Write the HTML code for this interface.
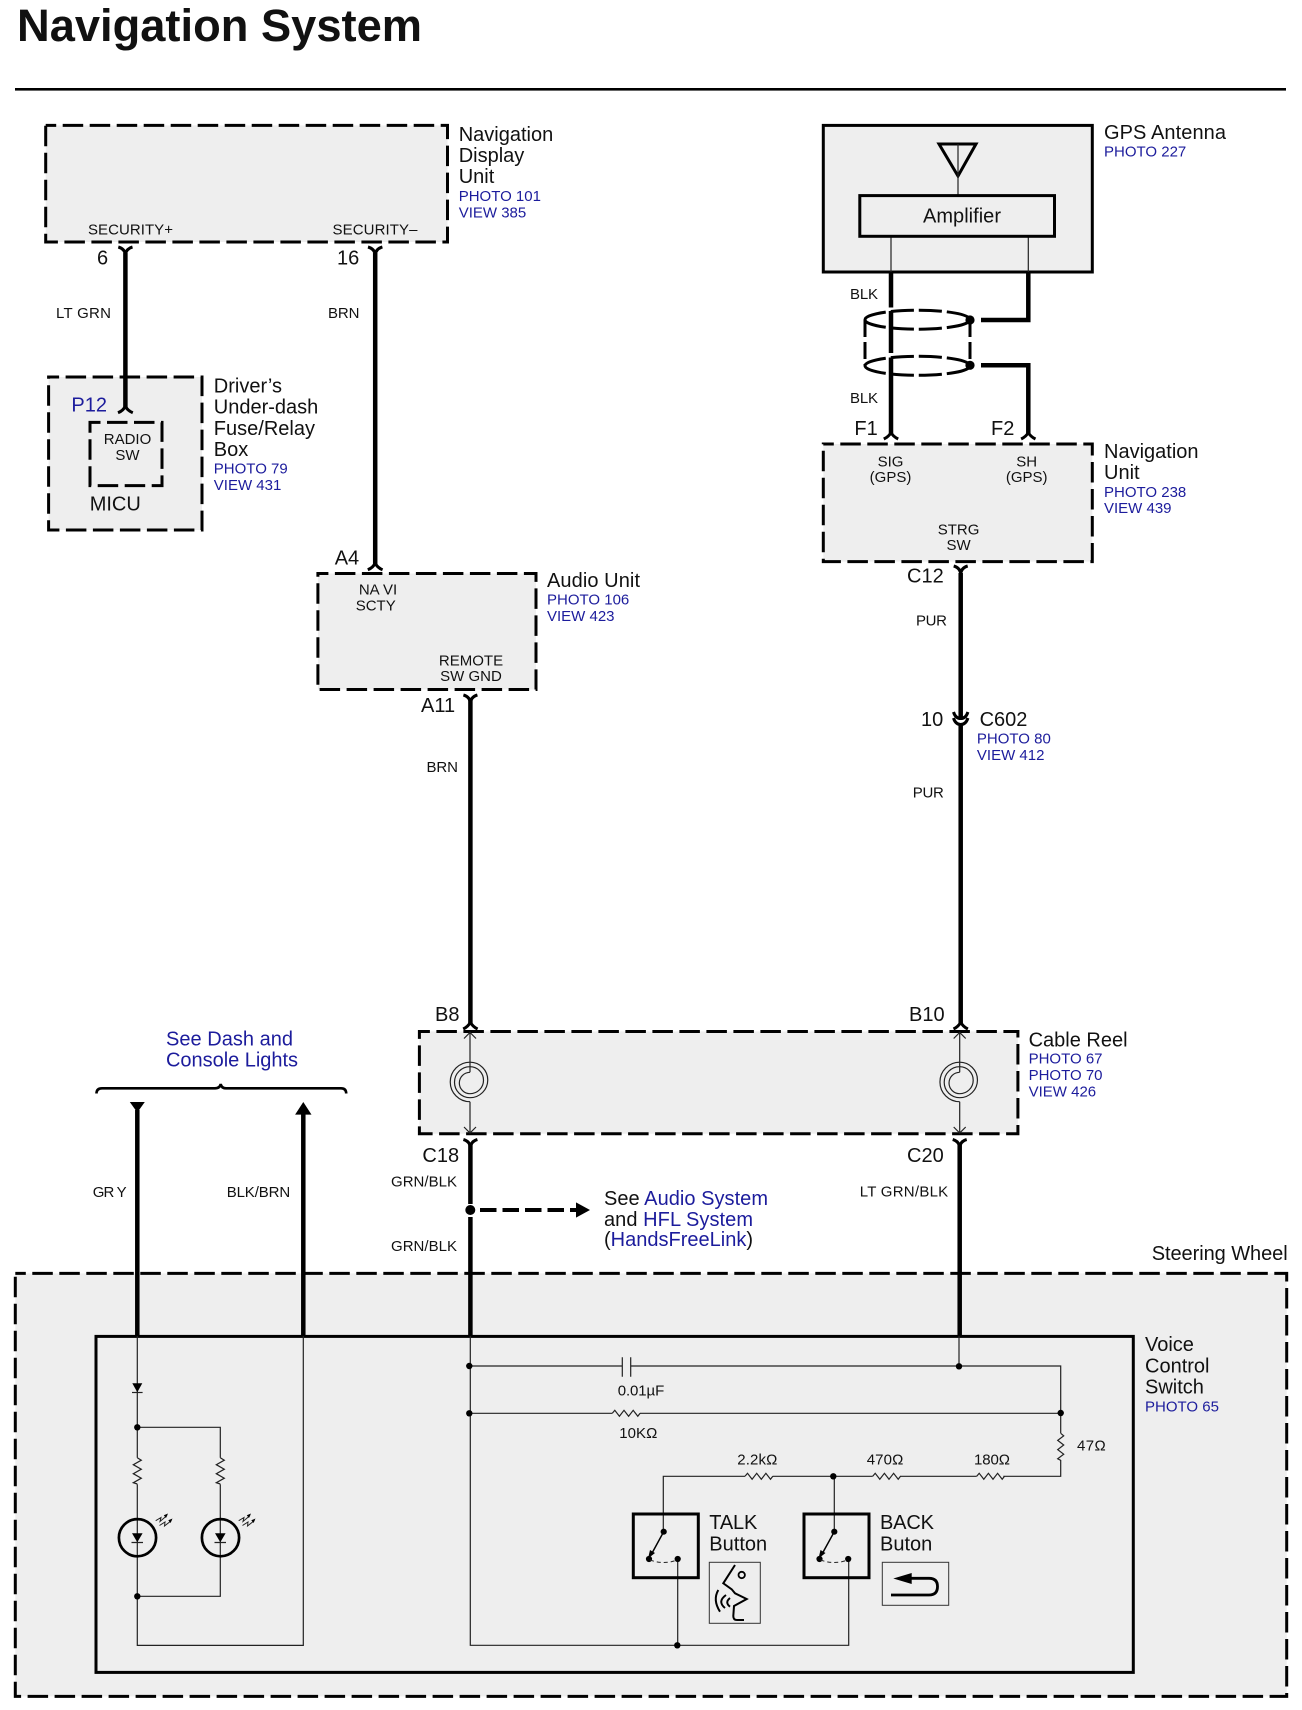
<!DOCTYPE html>
<html><head><meta charset="utf-8"><title>Navigation System</title>
<style>
html,body{margin:0;padding:0;background:#fff}
svg{display:block}
text{font-family:"Liberation Sans",sans-serif;fill:#111}
.b{font-size:20px}
.s{font-size:15px}
.l{font-size:15px;fill:#1c1c9c}
.u{fill:#1c1c9c}
.d{fill:#eee;stroke:#000;stroke-width:3;stroke-dasharray:20.5 6.5;stroke-dashoffset:10}
.w{fill:none;stroke:#000;stroke-width:4.5}
.c{fill:none;stroke:#000;stroke-width:3}
.t{fill:none;stroke:#222;stroke-width:1.2}
.r{fill:none;stroke:#222;stroke-width:1.2}
</style></head><body>
<svg xmlns="http://www.w3.org/2000/svg" width="1302" height="1710" viewBox="0 0 1302 1710">
<rect width="1302" height="1710" fill="#fff"/>
<text x="17" y="41" font-size="45" font-weight="bold" textLength="405" lengthAdjust="spacingAndGlyphs">Navigation System</text>
<rect x="15" y="88" width="1271" height="2.6" fill="#000"/>

<!-- Navigation display unit -->
<rect class="d" x="45.7" y="125.4" width="401.8" height="116.6"/>
<text class="s" x="88" y="234.5" textLength="85">SECURITY+</text>
<text class="s" x="332.5" y="234.5" textLength="85">SECURITY–</text>
<text class="b" x="458.7" y="141">Navigation</text>
<text class="b" x="458.7" y="162">Display</text>
<text class="b" x="458.7" y="183">Unit</text>
<text class="l" x="458.7" y="201">PHOTO 101</text>
<text class="l" x="458.7" y="217.7">VIEW 385</text>
<text class="b" x="97" y="264.6">6</text>
<text class="b" x="337" y="264.6">16</text>
<text class="s" x="56" y="318" textLength="55">LT GRN</text>
<text class="s" x="328" y="318" textLength="31.5">BRN</text>

<!-- Fuse box -->
<rect class="d" x="48.6" y="377" width="153.4" height="153"/>
<rect class="d" x="90" y="422.4" width="72" height="63.2"/>
<text class="l" style="font-size:20px" x="71.4" y="411.5">P12</text>
<text class="s" x="127.5" y="444" text-anchor="middle">RADIO</text>
<text class="s" x="127.5" y="460" text-anchor="middle">SW</text>
<text class="b" x="89.7" y="510.7">MICU</text>
<text class="b" x="213.8" y="392.6">Driver’s</text>
<text class="b" x="213.8" y="413.7">Under-dash</text>
<text class="b" x="213.8" y="435">Fuse/Relay</text>
<text class="b" x="213.8" y="456">Box</text>
<text class="l" x="213.8" y="473.6">PHOTO 79</text>
<text class="l" x="213.8" y="490">VIEW 431</text>

<!-- Top-left wires -->
<path class="w" d="M125.4 253V408M375.2 253V565"/>
<path class="c" d="M118.3 247Q125.4 249 125.4 256Q125.4 249 132.5 247"/>
<path class="c" d="M368 247Q375.2 249 375.2 256Q375.2 249 382.4 247"/>
<path class="c" d="M118 412.8Q123.5 410.5 125.4 406Q127.3 410.5 132.8 412.8"/>
<path class="c" d="M367.8 569.8Q373.3 567.5 375.2 563Q377.1 567.5 382.6 569.8"/>

<!-- GPS antenna -->
<rect x="823.3" y="125.4" width="269" height="146.6" fill="#eee" stroke="#000" stroke-width="3"/>
<path fill="none" stroke="#000" stroke-width="3" d="M939 144H976L958 176Z"/>
<path class="t" d="M958 144V195.6M891 236V272M1028.3 236V272"/>
<rect x="859.8" y="195.6" width="194.7" height="40.7" fill="#eee" stroke="#000" stroke-width="3"/>
<text class="b" x="923" y="222.5" textLength="78">Amplifier</text>
<text class="b" x="1104" y="139" textLength="122">GPS Antenna</text>
<text class="l" x="1104" y="156.7">PHOTO 227</text>

<path class="w" d="M891 272V307.5M891 311V353M891 357.5V434M1028.3 272V320H981M981 365.3H1028.3V434"/>
<path fill="none" stroke="#000" stroke-width="3" stroke-dasharray="23 5" d="M865 319.7A52.5 9.5 0 0 1 970 319.7M865 319.7A52.5 9.5 0 0 0 970 319.7M865 365.8A52.5 9.5 0 0 1 970 365.8M865 365.8A52.5 9.5 0 0 0 970 365.8"/>
<path class="c" stroke-dasharray="17 5" d="M865 320V365.3M970 320V365.3"/>
<circle cx="970" cy="320" r="4.6"/><circle cx="970" cy="365.3" r="4.6"/>
<text class="s" x="850" y="298.8" textLength="28">BLK</text>
<text class="s" x="850" y="402.8" textLength="28">BLK</text>
<text class="b" x="854.4" y="435">F1</text>
<text class="b" x="991" y="435">F2</text>
<path class="c" d="M883.8 439Q889 436.5 891 432.5Q893 436.5 898.2 439"/>
<path class="c" d="M1021.1 439Q1026.3 436.5 1028.3 432.5Q1030.3 436.5 1035.5 439"/>

<!-- Navigation unit -->
<rect class="d" x="823.3" y="444" width="269" height="117.6"/>
<text class="s" x="890.5" y="466.4" text-anchor="middle">SIG</text>
<text class="s" x="890.5" y="482" text-anchor="middle">(GPS)</text>
<text class="s" x="1026.7" y="466.4" text-anchor="middle">SH</text>
<text class="s" x="1026.7" y="482" text-anchor="middle">(GPS)</text>
<text class="s" x="958.6" y="534.4" text-anchor="middle">STRG</text>
<text class="s" x="958.6" y="550" text-anchor="middle">SW</text>
<text class="b" x="1104" y="458">Navigation</text>
<text class="b" x="1104" y="479">Unit</text>
<text class="l" x="1104" y="497">PHOTO 238</text>
<text class="l" x="1104" y="513">VIEW 439</text>
<text class="b" x="907" y="582.4">C12</text>
<text class="s" x="916" y="625.7" textLength="31">PUR</text>

<!-- Audio unit -->
<text class="b" x="334.7" y="564.6">A4</text>
<rect class="d" x="317.9" y="573.5" width="218.1" height="116"/>
<text class="s" x="378" y="594.5" text-anchor="middle">NA VI</text>
<text class="s" x="375.7" y="610.5" text-anchor="middle">SCTY</text>
<text class="s" x="471" y="665.4" text-anchor="middle">REMOTE</text>
<text class="s" x="471" y="681" text-anchor="middle">SW GND</text>
<text class="b" x="547" y="587" textLength="93">Audio Unit</text>
<text class="l" x="547" y="604.7">PHOTO 106</text>
<text class="l" x="547" y="621">VIEW 423</text>
<text class="b" x="421" y="712">A11</text>
<text class="s" x="426.5" y="772" textLength="31.5">BRN</text>

<!-- Long wires -->
<path class="w" d="M470.4 700V1023M960.7 573V718M960.7 724V1023"/>
<path class="c" d="M463.4 695Q470.4 697 470.4 704Q470.4 697 477.4 695"/>
<path class="c" d="M953.7 566Q960.7 568 960.7 575Q960.7 568 967.7 566"/>
<path class="c" d="M953.5 712Q955.5 718.5 960.7 718.5Q965.9 718.5 967.9 712"/>
<path class="c" d="M953.5 718Q955.5 724.5 960.7 724.5Q965.9 724.5 967.9 718"/>
<text class="b" x="921" y="726">10</text>
<text class="b" x="979.6" y="726">C602</text>
<text class="l" x="976.9" y="743.6">PHOTO 80</text>
<text class="l" x="976.9" y="760">VIEW 412</text>
<text class="s" x="912.8" y="797.6" textLength="31">PUR</text>

<!-- Cable reel -->
<text class="b" x="435" y="1020.8">B8</text>
<text class="b" x="909" y="1020.8">B10</text>
<path class="c" d="M463.2 1029Q468.4 1026.5 470.4 1022Q472.4 1026.5 477.6 1029"/>
<path class="c" d="M953.5 1029Q958.7 1026.5 960.7 1022Q962.7 1026.5 967.9 1029"/>
<rect class="d" x="419.4" y="1031.5" width="598.5" height="102.2"/>
<path class="t" d="M470 1032.5V1072.3M464 1038.5L470 1032.5L476 1038.5M470 1101.7V1133M464 1127L470 1133L476 1127"/>
<path class="t" d="M470 1101.7A19.75 19.75 0 0 1 470 1062.2A17.75 17.75 0 0 1 470 1097.7A15.5 15.5 0 0 1 470 1066.7A13.5 13.5 0 0 1 470 1093.7A10.7 10.7 0 0 1 470 1072.3"/>
<path class="t" d="M959.7 1032.5V1072.3M953.7 1038.5L959.7 1032.5L965.7 1038.5M959.7 1101.7V1133M953.7 1127L959.7 1133L965.7 1127"/>
<path class="t" d="M959.7 1101.7A19.75 19.75 0 0 1 959.7 1062.2A17.75 17.75 0 0 1 959.7 1097.7A15.5 15.5 0 0 1 959.7 1066.7A13.5 13.5 0 0 1 959.7 1093.7A10.7 10.7 0 0 1 959.7 1072.3"/>
<text class="b" x="1028.6" y="1046.7">Cable Reel</text>
<text class="l" x="1028.6" y="1063.7">PHOTO 67</text>
<text class="l" x="1028.6" y="1080">PHOTO 70</text>
<text class="l" x="1028.6" y="1096.7">VIEW 426</text>

<!-- See dash -->
<text class="b u" x="166" y="1045.3" textLength="127">See Dash and</text>
<text class="b u" x="166" y="1066.6" textLength="132">Console Lights</text>
<path fill="none" stroke="#000" stroke-width="2.6" d="M96.5 1093.5Q96.5 1088.3 102 1088.3H215Q220 1088.3 220.7 1084Q221.4 1088.3 226 1088.3H341Q346.2 1088.3 346.2 1093.5"/>

<!-- Steering wheel -->
<text class="b" x="1151.7" y="1260" textLength="136">Steering Wheel</text>
<rect class="d" x="15.3" y="1273.4" width="1271.4" height="423"/>
<rect x="96" y="1336.4" width="1037.3" height="336" fill="#eee" stroke="#000" stroke-width="3"/>

<!-- Vertical thick wires to voice switch -->
<path fill="#000" d="M129.8 1102H144.8L137.3 1112.5Z"/>
<path fill="#000" d="M303.3 1102L311.5 1114.6H295.1Z"/>
<path class="w" d="M137.3 1110V1336M303.3 1112V1336M470.4 1143V1204M470.4 1217V1336M959.7 1143V1336"/>
<path class="c" d="M463.4 1139.5Q470.4 1141.5 470.4 1148.5Q470.4 1141.5 477.4 1139.5"/>
<path class="c" d="M952.7 1139.5Q959.7 1141.5 959.7 1148.5Q959.7 1141.5 966.7 1139.5"/>
<text class="b" x="422.4" y="1162">C18</text>
<text class="b" x="907" y="1162">C20</text>
<text class="s" x="391" y="1186.7" textLength="66">GRN/BLK</text>
<text class="s" x="391" y="1251" textLength="66">GRN/BLK</text>
<text class="s" x="859.7" y="1196.7" textLength="88.5">LT GRN/BLK</text>
<text class="s" x="92.7" y="1197" textLength="34">GR Y</text>
<text class="s" x="226.7" y="1197" textLength="63.5">BLK/BRN</text>
<circle cx="470.3" cy="1210" r="5"/>
<path fill="none" stroke="#000" stroke-width="4" stroke-dasharray="16.5 6" d="M480 1210H576"/>
<path fill="#000" d="M576 1202.4L590 1210L576 1217.6Z"/>
<text class="b" x="604" y="1205" textLength="164">See <tspan class="u">Audio System</tspan></text>
<text class="b" x="604" y="1226" textLength="149">and <tspan class="u">HFL System</tspan></text>
<text class="b" x="604" y="1246" textLength="149">(<tspan class="u">HandsFreeLink</tspan>)</text>

<!-- Voice switch labels -->
<text class="b" x="1145" y="1351">Voice</text>
<text class="b" x="1145" y="1372.3">Control</text>
<text class="b" x="1145" y="1393.3">Switch</text>
<text class="l" x="1145" y="1411.3">PHOTO 65</text>

<!-- Left circuit -->
<path class="t" d="M137.3 1336V1457.7M137.3 1484.3V1645.4H303.3V1336M137.3 1427.3H220.3V1457.7M220.3 1484.3V1596.3H137.3"/>
<path class="r" d="M137.3 1457.7l4 2.5l-8 4.5l8 4.5l-8 4.5l8 4.5l-8 4.5l4 1.3M220.3 1457.7l4 2.5l-8 4.5l8 4.5l-8 4.5l8 4.5l-8 4.5l4 1.3"/>
<path fill="#000" d="M132.3 1383.3H142.3L137.3 1392.3Z"/>
<path class="t" d="M132 1392.5H142.6"/>
<circle cx="137.3" cy="1427.3" r="3.2"/>
<circle cx="137.3" cy="1596.3" r="3.2"/>
<circle cx="137.5" cy="1537.7" r="18.6" fill="none" stroke="#000" stroke-width="2.7"/>
<circle cx="220.5" cy="1537.7" r="18.6" fill="none" stroke="#000" stroke-width="2.7"/>
<path fill="#000" d="M132 1533.3H142.6L137.3 1542.3Z"/>
<path fill="#000" d="M215 1533.3H225.6L220.3 1542.3Z"/>
<path class="t" d="M131.5 1542.5H143M214.5 1542.5H226"/>
<path fill="none" stroke="#222" stroke-width="1" d="M155.7 1520.7L161 1517.5L160 1521.5L167 1515.5M159.5 1525.5L165 1522L164.5 1526L171.5 1520.5M238.7 1520.7L244 1517.5L243 1521.5L250 1515.5M242.5 1525.5L248 1522L247.5 1526L254.5 1520.5"/>
<path fill="#000" d="M168 1513.5L166 1518L163.8 1515.3ZM172.5 1518.5L170.5 1523L168.3 1520.3ZM251 1513.5L249 1518L246.8 1515.3ZM255.5 1518.5L253.5 1523L251.3 1520.3Z"/>

<!-- Right circuit -->
<path class="t" d="M470.3 1336V1645.3H848.7V1559M677.7 1559V1645.3M470.3 1366H622.3M630.7 1366H1060.7V1433.3M959 1336V1366M470.3 1413.3H612.3M640 1413.3H1060.7M1060.7 1460V1476.3H1003.3M976.7 1476.3H900M872.7 1476.3H772.7M745 1476.3H663.3V1531.7M834.3 1476.3V1531.7"/>
<path class="t" d="M622.3 1357.3V1376.7M630.7 1357.3V1376.7"/>
<path class="r" d="M612.3 1413.3l2.5 -3l4.6 6l4.6 -6l4.6 6l4.6 -6l4.6 6l2.3 -3M745 1476.3l2.5 -3l4.6 6l4.6 -6l4.6 6l4.6 -6l4.6 6l2.3 -3M872.7 1476.3l2.5 -3l4.6 6l4.6 -6l4.6 6l4.6 -6l4.6 6l2.3 -3M976.7 1476.3l2.5 -3l4.6 6l4.6 -6l4.6 6l4.6 -6l4.6 6l2.3 -3M1060.7 1433.3l3 2.5l-6 4.6l6 4.6l-6 4.6l6 4.6l-6 4.6l3 1.5"/>
<circle cx="469.3" cy="1366" r="3.2"/>
<circle cx="469.3" cy="1413.3" r="3.2"/>
<circle cx="959" cy="1366.3" r="3.2"/>
<circle cx="1060.7" cy="1413" r="3.2"/>
<circle cx="833.3" cy="1476.3" r="3.2"/>
<circle cx="677.3" cy="1645.3" r="3.2"/>
<text class="s" x="617.7" y="1395.7" textLength="46.6">0.01µF</text>
<text class="s" x="619.3" y="1438" textLength="38">10KΩ</text>
<text class="s" x="737.3" y="1464.3" textLength="40">2.2kΩ</text>
<text class="s" x="866.7" y="1464.3" textLength="36.6">470Ω</text>
<text class="s" x="974" y="1464.3" textLength="36">180Ω</text>
<text class="s" x="1077" y="1450.7" textLength="28.7">47Ω</text>

<!-- Switches -->
<rect x="633.3" y="1514" width="65" height="63.7" fill="none" stroke="#000" stroke-width="3"/>
<rect x="804" y="1514" width="65" height="63.7" fill="none" stroke="#000" stroke-width="3"/>
<g>
<circle cx="663.7" cy="1531.7" r="3.1"/><circle cx="649" cy="1559" r="3.1"/><circle cx="677.7" cy="1559" r="3.1"/>
<path fill="none" stroke="#000" stroke-width="1.5" d="M663.7 1531.7L651 1555"/>
<path fill="#000" d="M648 1558.5L650 1550L655 1553Z"/>
<path fill="none" stroke="#222" stroke-width="1" stroke-dasharray="4 3" d="M650 1560Q664 1565 677 1560"/>
</g>
<g>
<circle cx="834.3" cy="1531.7" r="3.1"/><circle cx="819.5" cy="1559" r="3.1"/><circle cx="848.2" cy="1559" r="3.1"/>
<path fill="none" stroke="#000" stroke-width="1.5" d="M834.3 1531.7L821.5 1555"/>
<path fill="#000" d="M818.5 1558.5L820.5 1550L825.5 1553Z"/>
<path fill="none" stroke="#222" stroke-width="1" stroke-dasharray="4 3" d="M820.5 1560Q834.5 1565 847.5 1560"/>
</g>
<text class="b" x="709.3" y="1529" textLength="48">TALK</text>
<text class="b" x="709.3" y="1550.3">Button</text>
<text class="b" x="880" y="1529" textLength="54">BACK</text>
<text class="b" x="880" y="1550.3">Buton</text>

<!-- Icons -->
<rect x="709.3" y="1562.3" width="51" height="61" fill="none" stroke="#333" stroke-width="1"/>
<circle cx="741.7" cy="1575" r="3.2" fill="none" stroke="#000" stroke-width="1.8"/>
<path fill="none" stroke="#000" stroke-width="2" d="M735 1565L723.3 1583.3L731.7 1589.3L735 1593.3L746.7 1599L734 1606L733.3 1616Q733.3 1620 737 1620H744"/>
<path fill="none" stroke="#000" stroke-width="2" d="M718.3 1590Q712.5 1600 720 1611.7M726 1595Q717 1601.5 725 1608M730 1598Q724.5 1602.5 730 1606.7"/>
<rect x="882.3" y="1562.3" width="66.4" height="43" fill="none" stroke="#333" stroke-width="1"/>
<path fill="#000" d="M893.3 1578.5L911.7 1573V1584Z"/>
<path fill="none" stroke="#000" stroke-width="2.8" d="M911 1578.3H929Q937.5 1578.3 937.5 1586.5Q937.5 1595 929 1595H891"/>
</svg>
</body></html>
